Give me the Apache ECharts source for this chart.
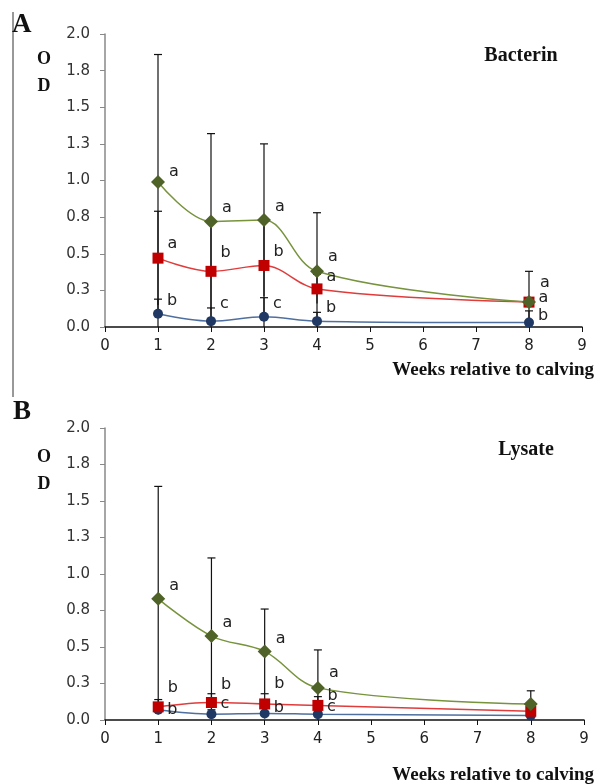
<!DOCTYPE html>
<html>
<head>
<meta charset="utf-8">
<script src="https://cdn.jsdelivr.net/npm/echarts@6/dist/echarts.min.js"></script>
<style>
html,body{margin:0;padding:0;background:#fff;}
#chart{width:609px;height:784px;}
</style>
</head>
<body>
<div id="chart"></div>
<script>
// ---- data ----
var weeks = [1, 2, 3, 4, 8];
var xTickLabels = ['0','1','2','3','4','5','6','7','8','9'];
var yTickLabels = ['0.0','0.3','0.5','0.8','1.0','1.3','1.5','1.8','2.0'];

// Panel A: Bacterin
var bactGreen = [0.99, 0.72, 0.73, 0.38, 0.17];
var bactGreenUpper = [1.86, 1.32, 1.25, 0.78, 0.38];
var bactRed = [0.47, 0.38, 0.42, 0.26, 0.17];
var bactRedUpper = [0.79, 0.72, 0.74, 0.36, 0.14];
var bactBlue = [0.09, 0.04, 0.07, 0.04, 0.03];
var bactBlueUpper = [0.19, 0.13, 0.20, 0.10, 0.11];
var bactGreenLetters = ['a','a','a','a','a'];
var bactRedLetters = ['a','b','b','a','a'];
var bactBlueLetters = ['b','c','c','b','b'];

// Panel B: Lysate
var lysGreen = [0.83, 0.575, 0.47, 0.22, 0.11];
var lysGreenUpper = [1.60, 1.11, 0.76, 0.48, 0.20];
var lysRed = [0.09, 0.12, 0.11, 0.10, 0.06];
var lysRedUpper = [0.14, 0.18, 0.18, 0.16, 0.08];
var lysBlue = [0.07, 0.04, 0.045, 0.04, 0.03];
var lysBlueUpper = [0.10, 0.07, 0.08, 0.06, 0.05];
var lysGreenLetters = ['a','a','a','a',''];
var lysRedLetters = ['b','b','b','b',''];
var lysBlueLetters = ['b','c','b','c',''];

// ---- style / layout ----
var GREEN_LINE = '#77933C', GREEN_MK = '#4F6228';
var RED_LINE = '#E03C3C', RED_MK = '#C00000';
var BLUE_LINE = '#4F6F9F', BLUE_MK = '#1F3864';
var labelOffsets = {
  A: { g: [[0,-10],[0,-14],[0,-13],[0,-14],[0,-19]],
       r: [[0,-14],[0,-18],[0,-14],[0,-12],[0,-4]],
       b: [[0,-13],[0,-17],[0,-13],[0,-13],[0,-7]] },
  B: { g: [[0,-13],[0,-13],[0,-13],[0,-15],[0,0]],
       r: [[0,-19],[0,-18],[0,-20],[0,-10],[0,0]],
       b: [[0,0],[0,-10],[0,-6],[0,-7],[0,0]] }
};

function pts(vals, letters, offs) {
  return weeks.map(function (w, i) {
    return {
      value: [w, vals[i]],
      label: { show: !!letters[i], formatter: letters[i], offset: offs[i] }
    };
  });
}
function errData(vals, uppers) {
  return weeks.map(function (w, i) { return [w, vals[i], uppers[i]]; });
}
function lineSeries(idx, vals, letters, offs, lineColor, mkColor, symbol, size) {
  return {
    type: 'line', xAxisIndex: idx, yAxisIndex: idx, smooth: 0.35,
    data: pts(vals, letters, offs), symbol: symbol, symbolSize: size,
    lineStyle: { color: lineColor, width: 1.5 },
    itemStyle: { color: mkColor },
    label: { position: 'right', distance: 4, color: '#222', fontSize: 16,
             fontFamily: 'DejaVu Sans' },
    z: 3, animation: false
  };
}
function errSeries(idx, vals, uppers) {
  return {
    type: 'custom', xAxisIndex: idx, yAxisIndex: idx, z: 2, animation: false,
    data: errData(vals, uppers),
    encode: { x: 0, y: [1, 2] },
    renderItem: function (params, api) {
      var x = api.value(0), m = api.value(1), u = api.value(2);
      var lo = Math.max(0, 2 * m - u);
      var pTop = api.coord([x, u]);
      var pLo = api.coord([x, lo]);
      var st = { stroke: '#111', lineWidth: 1.2 };
      return { type: 'group', children: [
        { type: 'line', shape: { x1: pTop[0], y1: pTop[1], x2: pLo[0], y2: pLo[1] }, style: st },
        { type: 'line', shape: { x1: pTop[0] - 4, y1: pTop[1], x2: pTop[0] + 4, y2: pTop[1] }, style: st }
      ]};
    }
  };
}
function xAxis(idx) {
  return {
    type: 'value', gridIndex: idx, min: 0, max: 9, interval: 1,
    axisLine: { lineStyle: { color: '#111', width: 1.5 } },
    axisTick: { show: true, length: 5, lineStyle: { color: '#111' } },
    axisLabel: { margin: 12, fontSize: 15, color: '#222', fontFamily: 'DejaVu Sans',
                 formatter: function (v) { return xTickLabels[Math.round(v)]; } },
    splitLine: { show: false }
  };
}
function yAxis(idx) {
  return {
    type: 'value', gridIndex: idx, min: 0, max: 2, interval: 0.25,
    axisLine: { show: true, lineStyle: { color: '#888', width: 1.5 } },
    axisTick: { show: true, length: 5, lineStyle: { color: '#888' } },
    axisLabel: { margin: 15, fontSize: 15, color: '#333', fontFamily: 'DejaVu Sans',
                 formatter: function (v) { return yTickLabels[Math.round(v / 0.25)]; } },
    splitLine: { show: false }
  };
}

var serifBold = { fontFamily: 'Liberation Serif', fontWeight: 'bold', fill: '#111' };
function txt(t, x, y, size, align) {
  return { type: 'text', x: x, y: y,
    style: Object.assign({ text: t, fontSize: size, textAlign: align || 'left',
                           textVerticalAlign: 'middle' }, serifBold) };
}

var chart = echarts.init(document.getElementById('chart'));
chart.setOption({
  backgroundColor: '#fff',
  animation: false,
  grid: [
    { left: 105, top: 34, width: 477, height: 293 },
    { left: 105, top: 428, width: 479, height: 292 }
  ],
  xAxis: [xAxis(0), xAxis(1)],
  yAxis: [yAxis(0), yAxis(1)],
  series: [
    errSeries(0, bactGreen, bactGreenUpper),
    errSeries(0, bactRed, bactRedUpper),
    errSeries(0, bactBlue, bactBlueUpper),
    lineSeries(0, bactBlue, bactBlueLetters, labelOffsets.A.b, BLUE_LINE, BLUE_MK, 'circle', 10),
    lineSeries(0, bactRed, bactRedLetters, labelOffsets.A.r, RED_LINE, RED_MK, 'rect', 11),
    lineSeries(0, bactGreen, bactGreenLetters, labelOffsets.A.g, GREEN_LINE, GREEN_MK, 'diamond', 14),
    errSeries(1, lysGreen, lysGreenUpper),
    errSeries(1, lysRed, lysRedUpper),
    errSeries(1, lysBlue, lysBlueUpper),
    lineSeries(1, lysBlue, lysBlueLetters, labelOffsets.B.b, BLUE_LINE, BLUE_MK, 'circle', 10),
    lineSeries(1, lysRed, lysRedLetters, labelOffsets.B.r, RED_LINE, RED_MK, 'rect', 11),
    lineSeries(1, lysGreen, lysGreenLetters, labelOffsets.B.g, GREEN_LINE, GREEN_MK, 'diamond', 14)
  ],
  graphic: [
    { type: 'line', shape: { x1: 13, y1: 12, x2: 13, y2: 397 }, style: { stroke: '#333', lineWidth: 1 } },
    txt('A', 12, 25, 27),
    txt('B', 13, 412, 27),
    txt('O', 44, 59, 18, 'center'),
    txt('D', 44, 86, 18, 'center'),
    txt('O', 44, 457, 18, 'center'),
    txt('D', 44, 484, 18, 'center'),
    txt('Bacterin', 521, 56, 20, 'center'),
    txt('Lysate', 526, 450, 20, 'center'),
    txt('Weeks relative to calving', 594, 370, 19, 'right'),
    txt('Weeks relative to calving', 594, 775, 19, 'right')
  ]
});
</script>
</body>
</html>
